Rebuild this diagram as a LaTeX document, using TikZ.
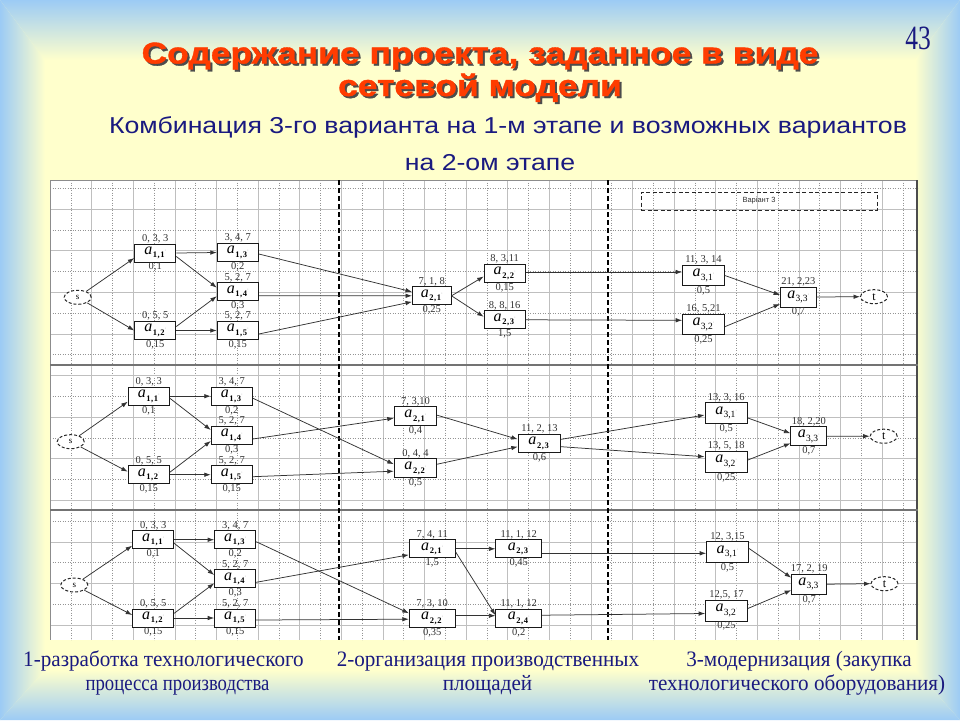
\documentclass[tikz,border=0pt]{standalone}
\usepackage{fontspec}
\setmainfont{Liberation Serif}
\newfontfamily\sansf{Liberation Sans}
\newfontfamily\widesans{Liberation Sans}[FakeStretch=1.16]
\newfontfamily\titlesans{Liberation Sans}[FakeStretch=1.18, BoldFeatures={FakeBold=1.2}]
\newfontfamily\narrowserif{Liberation Serif}[FakeStretch=0.75]
\newfontfamily\capserif{Liberation Serif}[FakeStretch=0.96]
\newfontfamily\capserifn{Liberation Serif}[FakeStretch=0.85]
\usetikzlibrary{arrows.meta,shapes.geometric}
\definecolor{bgblue}{HTML}{9CCBF5}
\definecolor{bgyel}{HTML}{FFFFCC}
\definecolor{navy}{HTML}{1A1A80}
\definecolor{titlered}{HTML}{FF3C00}
\newcommand{\acell}[2]{\textit{\fontsize{16}{16}\selectfont a}\kern0.6pt\raisebox{-3.5pt}{\fontsize{8.5}{9}\selectfont\bfseries #1\kern0.6pt,\kern0.6pt#2}\raisebox{0.5pt}{\fontsize{5}{5}\selectfont\color{black!30}'}}
\newcommand{\acellr}[2]{\textit{\fontsize{16}{16}\selectfont a}\kern0.3pt\raisebox{-3.5pt}{\fontsize{9.5}{10}\selectfont #1,#2}\raisebox{0.5pt}{\fontsize{5}{5}\selectfont\color{black!30}'}}
\newcommand{\shadowed}[1]{\makebox[0pt][l]{\kern2pt\raisebox{-2pt}{\color{black!70}#1}}{\color{titlered}#1}}
\begin{document}
\begin{tikzpicture}[x=1pt,y=-1pt,
  bx/.style={draw=black!90, line width=1pt, fill=white, minimum width=41pt, minimum height=18pt, inner sep=0pt},
  bxt/.style={bx, minimum width=41.6pt, minimum height=20pt},
  lt/.style={font=\fontsize{10.5}{11}\selectfont, text=black!80, inner sep=0.3pt},
  se/.style={ellipse, draw=black!85, dash pattern=on 3pt off 2pt, line width=1pt, fill=white, minimum width=27pt, minimum height=14pt, inner sep=0pt},
  arr/.style={-{Latex[length=6.5pt,width=4.5pt]}, line width=0.75pt, draw=black!80},
  gridA/.style={draw=black!25, line width=0.5pt},
  gridB/.style={draw=black!42, line width=0.5pt, dotted},
  titletxt/.style={font=\titlesans\bfseries\fontsize{30}{30}\selectfont, anchor=base, inner sep=0pt},
  subtxt/.style={font=\widesans\fontsize{23}{23}\selectfont, text=navy, anchor=base, inner sep=0pt},
  bottxt/.style={font=\capserif\fontsize{22}{22}\selectfont, text=navy, anchor=base, inner sep=0pt}
]
\useasboundingbox (0,0) rectangle (960,720);
% background
\fill[bgyel] (0,0) rectangle (960,720);
\shade[top color=bgblue, bottom color=bgyel] (0,0) -- (960,0) -- (915,60) -- (45,60) -- cycle;
\shade[left color=bgblue, right color=bgyel] (0,0) -- (45,60) -- (45,670) -- (0,720) -- cycle;
\shade[left color=bgyel, right color=bgblue] (960,0) -- (915,60) -- (915,670) -- (960,720) -- cycle;
\shade[top color=bgyel, bottom color=bgblue] (0,720) -- (45,670) -- (915,670) -- (960,720) -- cycle;
% titles
\node[titletxt] (t1) at (480,63.5) {\shadowed{Содержание проекта, заданное в виде}};
\node[titletxt] (t2) at (480,96) {\shadowed{сетевой модели}};
\node[subtxt] (st1) at (508,133) {Комбинация 3-го варианта на 1-м этапе и возможных вариантов};
\node[subtxt] (st2) at (490,170) {на 2-ом этапе};
\node[font=\narrowserif\fontsize{34}{34}\selectfont, text=navy, anchor=base, inner sep=0pt] (pg) at (918,49) {43};
% panel
\fill[white] (50,180) rectangle (918,640);
\begin{scope}
\clip (50,180) rectangle (918,640);
\foreach \k in {2,4,...,40} { \pgfmathsetmacro\gx{50+20.8*\k} \draw[gridA] (\gx,180) -- (\gx,640); }
\foreach \k in {1,3,...,41} { \pgfmathsetmacro\gx{50+20.8*\k} \draw[gridB] (\gx,180) -- (\gx,640); }
\foreach \k in {2,4,...,22} { \pgfmathsetmacro\gy{167.5+20.8*\k} \draw[gridA] (50,\gy) -- (918,\gy); }
\foreach \k in {1,3,...,21} { \pgfmathsetmacro\gy{167.5+20.8*\k} \draw[gridB] (50,\gy) -- (918,\gy); }
\end{scope}
\draw[black!45, line width=0.6pt] (50,180) -- (918,180);
\draw[black!45, line width=0.6pt] (50,180) -- (50,640);
\draw[black!70, line width=1.2pt] (917,180) -- (917,640);
\draw[black!55, line width=1.5pt] (50,365) -- (918,365);
\draw[black!55, line width=1.5pt] (50,510) -- (918,510);
\draw[black, line width=1.2pt, dash pattern=on 5pt off 3pt] (339,180) -- (339,640);
\draw[black, line width=1.2pt, dash pattern=on 5pt off 3pt] (608,180) -- (608,640);
\node[draw=black!85, line width=0.9pt, dash pattern=on 4pt off 2.5pt, minimum width=236pt, minimum height=18pt, font=\sansf\fontsize{7.5}{8}\selectfont, text=black!80] (var) at (759,201) {Варіант 3};
% ---------- panel 1
\node[se, font=\fontsize{9}{9}\selectfont] (p1s) at (77.7,297.3) {s};
\node[bx, label={[lt]above:{0, 3, 3}}, label={[lt]below:{0,1}}] (p1a11) at (155.3,253) {\acell{1}{1}};
\node[bx, label={[lt]above:{0, 5, 5}}, label={[lt]below:{0,15}}] (p1a12) at (155.3,330.5) {\acell{1}{2}};
\node[bx, label={[lt]above:{3, 4, 7}}, label={[lt]below:{0,2}}] (p1a13) at (237.8,252.5) {\acell{1}{3}};
\node[bx, label={[lt]above:{5, 2, 7}}, label={[lt]below:{0,3}}] (p1a14) at (237.8,291.7) {\acell{1}{4}};
\node[bx, label={[lt]above:{5, 2, 7}}, label={[lt]below:{0,15}}] (p1a15) at (237.8,330.5) {\acell{1}{5}};
\node[bx, minimum width=38.5pt, label={[lt]above:{7, 1, 8}}, label={[lt]below:{0,25}}] (p1a21) at (431.8,295.8) {\acell{2}{1}};
\node[bx, label={[lt]above:{8, 3,11}}, label={[lt]below:{0,15}}] (p1a22) at (504.7,273.5) {\acell{2}{2}};
\node[bx, label={[lt]above:{8, 8, 16}}, label={[lt]below:{1,5}}] (p1a23) at (504.7,319.8) {\acell{2}{3}};
\node[bxt, label={[lt]above:{11, 3, 14}}, label={[lt]below:{0,5}}] (p1a31) at (703.5,275.5) {\acellr{3}{1}};
\node[bxt, label={[lt]above:{16, 5,21}}, label={[lt]below:{0,25}}] (p1a32) at (703.5,324.3) {\acellr{3}{2}};
\node[bxt, minimum width=35.5pt, label={[lt]above:{21, 2,23}}, label={[lt]below:{0,7}}] (p1a33) at (798.3,297) {\acellr{3}{3}};
\node[se, font=\fontsize{12}{12}\selectfont] (p1t) at (874,296.7) {t};
\draw[arr] (p1s) -- ([yshift=-5pt]p1a11.west);
\draw[arr] (p1s) -- (p1a12.west);
\draw[arr] (p1a11.east) -- (p1a13.west);
\draw[arr] ([yshift=-3.5pt]p1a11.east) -- ([yshift=4pt]p1a14.west);
\draw[arr] ([yshift=4pt]p1a12.east) -- ([yshift=-4.5pt]p1a14.west);
\draw[arr] (p1a12.east) -- (p1a15.west);
\draw[arr] ([yshift=-1.5pt]p1a13.east) -- ([yshift=4pt]p1a21.west);
\draw[arr] ([yshift=-4pt]p1a14.east) -- (p1a21.west);
\draw[arr] ([yshift=-3.5pt]p1a15.east) -- ([yshift=-6pt]p1a21.west);
\draw[arr] (p1a21.east) -- ([yshift=-3pt]p1a22.west);
\draw[arr] (p1a21.east) -- ([yshift=3pt]p1a23.west);
\draw[arr] ([yshift=1.5pt]p1a22.east) -- ([yshift=3.5pt]p1a31.west);
\draw[arr] (p1a23.east) -- ([yshift=4pt]p1a32.west);
\draw[arr] (p1a31.east) -- ([yshift=2pt]p1a33.west);
\draw[arr] ([yshift=-2.4pt]p1a32.east) -- ([yshift=-7pt]p1a33.west);
\draw[arr] (p1a33.east) -- (p1t.west);
% ---------- panel 2
\node[se, font=\fontsize{9}{9}\selectfont] (p2s) at (70.7,441.7) {s};
\node[bx, label={[lt]above:{0, 3, 3}}, label={[lt]below:{0,1}}] (p2a11) at (148.8,396.2) {\acell{1}{1}};
\node[bx, label={[lt]above:{0, 5, 5}}, label={[lt]below:{0,15}}] (p2a12) at (148.8,474.7) {\acell{1}{2}};
\node[bx, label={[lt]above:{3, 4, 7}}, label={[lt]below:{0,2}}] (p2a13) at (231.8,396.2) {\acell{1}{3}};
\node[bx, label={[lt]above:{5, 2, 7}}, label={[lt]below:{0,3}}] (p2a14) at (231.8,435.5) {\acell{1}{4}};
\node[bx, label={[lt]above:{5, 2, 7}}, label={[lt]below:{0,15}}] (p2a15) at (231.8,474.7) {\acell{1}{5}};
\node[bx, minimum width=42.4pt, minimum height=19pt, label={[lt]above:{7, 3,10}}, label={[lt]below:{0,4}}] (p2a21) at (415.5,416.2) {\acell{2}{1}};
\node[bx, minimum width=42.4pt, minimum height=19pt, label={[lt]above:{0, 4, 4}}, label={[lt]below:{0,5}}] (p2a22) at (415.5,468.2) {\acell{2}{2}};
\node[bx, minimum width=42.4pt, minimum height=18.5pt, label={[lt]above:{11, 2, 13}}, label={[lt]below:{0,6}}] (p2a23) at (539.5,443.3) {\acell{2}{3}};
\node[bxt, minimum width=42.3pt, minimum height=20.6pt, label={[lt]above:{13, 3, 16}}, label={[lt]below:{0,5}}] (p2a31) at (726.2,413) {\acellr{3}{1}};
\node[bxt, minimum width=42.3pt, minimum height=21.3pt, label={[lt]above:{13, 5, 18}}, label={[lt]below:{0,25}}] (p2a32) at (726.2,461.7) {\acellr{3}{2}};
\node[bxt, minimum width=35.7pt, minimum height=19.3pt, label={[lt]above:{18, 2,20}}, label={[lt]below:{0,7}}] (p2a33) at (808.8,436.3) {\acellr{3}{3}};
\node[se, font=\fontsize{12}{12}\selectfont] (p2t) at (883.7,436.2) {t};
\draw[arr] (p2s) -- ([yshift=-5.5pt]p2a11.west);
\draw[arr] (p2s) -- ([yshift=3pt]p2a12.west);
\draw[arr] (p2a11.east) -- (p2a13.west);
\draw[arr] ([yshift=-2pt]p2a11.east) -- ([yshift=5.5pt]p2a14.west);
\draw[arr] ([yshift=2.4pt]p2a12.east) -- ([yshift=-5.5pt]p2a14.west);
\draw[arr] (p2a12.east) -- (p2a15.west);
\draw[arr] ([yshift=-2pt]p2a13.east) -- ([yshift=4pt]p2a22.west);
\draw[arr] ([yshift=-3.5pt]p2a14.east) -- ([yshift=-2pt]p2a21.west);
\draw[arr] ([yshift=-2pt]p2a15.east) -- ([yshift=-3pt]p2a22.west);
\draw[arr] ([yshift=1pt]p2a21.east) -- ([yshift=4pt]p2a23.west);
\draw[arr] ([yshift=4pt]p2a22.east) -- ([yshift=-3.4pt]p2a23.west);
\draw[arr] ([yshift=4pt]p2a23.east) -- ([yshift=-2pt]p2a31.west);
\draw[arr] ([yshift=-3.4pt]p2a23.east) -- ([yshift=5pt]p2a32.west);
\draw[arr] ([yshift=-5pt]p2a31.east) -- ([yshift=3pt]p2a33.west);
\draw[arr] ([yshift=1.7pt]p2a32.east) -- ([yshift=-7pt]p2a33.west);
\draw[arr] (p2a33.east) -- (p2t.west);
% ---------- panel 3
\node[se, font=\fontsize{9}{9}\selectfont] (p3s) at (74.3,585) {s};
\node[bx, label={[lt]above:{0, 3, 3}}, label={[lt]below:{0,1}}] (p3a11) at (153.2,539.7) {\acell{1}{1}};
\node[bx, label={[lt]above:{0, 5, 5}}, label={[lt]below:{0,15}}] (p3a12) at (153.2,618) {\acell{1}{2}};
\node[bx, label={[lt]above:{3, 4, 7}}, label={[lt]below:{0,2}}] (p3a13) at (235.2,539.7) {\acell{1}{3}};
\node[bx, label={[lt]above:{5, 2, 7}}, label={[lt]below:{0,3}}] (p3a14) at (235.2,578.8) {\acell{1}{4}};
\node[bx, label={[lt]above:{5, 2, 7}}, label={[lt]below:{0,15}}] (p3a15) at (235.2,618) {\acell{1}{5}};
\node[bx, minimum width=45.7pt, label={[lt]above:{7, 4, 11}}, label={[lt]below:{1,5}}] (p3a21) at (432.2,548.8) {\acell{2}{1}};
\node[bx, minimum width=45.7pt, label={[lt]above:{7, 3, 10}}, label={[lt]below:{0,35}}] (p3a22) at (432.2,618.2) {\acell{2}{2}};
\node[bx, minimum width=45.7pt, label={[lt]above:{11, 1, 12}}, label={[lt]below:{0,45}}] (p3a23) at (518.8,548.8) {\acell{2}{3}};
\node[bx, minimum width=45.7pt, label={[lt]above:{11, 1, 12}}, label={[lt]below:{0,2}}] (p3a24) at (518.8,618.2) {\acell{2}{4}};
\node[bxt, minimum height=20.6pt, label={[lt]above:{12, 3,15}}, label={[lt]below:{0,5}}] (p3a31) at (727.5,552) {\acellr{3}{1}};
\node[bxt, minimum height=21pt, label={[lt]above:{12,5, 17}}, label={[lt]below:{0,25}}] (p3a32) at (726.5,610.5) {\acellr{3}{2}};
\node[bxt, minimum width=35pt, minimum height=20.3pt, label={[lt]above:{17, 2, 19}}, label={[lt]below:{0,7}}] (p3a33) at (809.2,584.2) {\acellr{3}{3}};
\node[se, font=\fontsize{12}{12}\selectfont] (p3t) at (884.5,583.7) {t};
\draw[arr] (p3s) -- ([yshift=-6pt]p3a11.west);
\draw[arr] (p3s) -- ([yshift=3pt]p3a12.west);
\draw[arr] (p3a11.east) -- (p3a13.west);
\draw[arr] ([yshift=-3.6pt]p3a11.east) -- ([yshift=3.8pt]p3a14.west);
\draw[arr] ([yshift=4.7pt]p3a12.east) -- ([yshift=-4.5pt]p3a14.west);
\draw[arr] (p3a12.east) -- (p3a15.west);
\draw[arr] ([yshift=-2pt]p3a13.east) -- ([yshift=5pt]p3a22.west);
\draw[arr] ([yshift=-3.5pt]p3a14.east) -- ([yshift=-6pt]p3a21.west);
\draw[arr] ([yshift=-2pt]p3a15.east) -- ([yshift=-1pt]p3a22.west);
\draw[arr] (p3a21.east) -- (p3a23.west);
\draw[arr] ([yshift=-3pt]p3a21.east) -- ([yshift=3pt]p3a24.west);
\draw[arr] ([yshift=2.5pt]p3a22.east) -- ([yshift=2.5pt]p3a24.west);
\draw[arr] ([yshift=-4.5pt]p3a23.east) -- ([yshift=-1.3pt]p3a31.west);
\draw[arr] ([yshift=3pt]p3a24.east) -- ([yshift=-3pt]p3a32.west);
\draw[arr] ([yshift=3.7pt]p3a31.east) -- ([yshift=6.5pt]p3a33.west);
\draw[arr] ([yshift=2pt]p3a32.east) -- ([yshift=-6pt]p3a33.west);
\draw[arr] (p3a33.east) -- (p3t.west);
% bottom captions
\node[bottxt] (b1a) at (163.5,666) {1-разработка технологического};
\node[bottxt, font=\capserifn\fontsize{22}{22}\selectfont] (b1b) at (177.5,690) {процесса производства};
\node[bottxt] (b2a) at (488,666) {2-организация производственных};
\node[bottxt] (b2b) at (487.5,690) {площадей};
\node[bottxt] (b3a) at (799,666) {3-модернизация (закупка};
\node[bottxt] (b3b) at (797,690) {технологического оборудования)};
\end{tikzpicture}
\end{document}
